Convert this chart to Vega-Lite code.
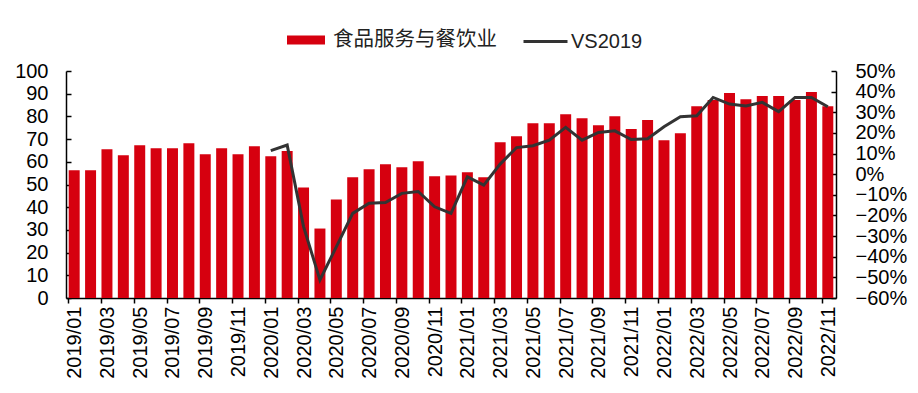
{
  "$schema": "https://vega.github.io/schema/vega-lite/v6.json",
  "width": 770,
  "height": 227,
  "autosize": {"type": "none"},
  "padding": {"left": 66, "top": 71, "right": 82, "bottom": 95},
  "config": {
    "font": "Liberation Sans",
    "view": {"stroke": null},
    "axis": {
      "labelFont": "Liberation Sans",
      "labelFontSize": 20,
      "labelColor": "#000000",
      "domainColor": "#000000",
      "tickColor": "#000000",
      "domainWidth": 1.5,
      "tickWidth": 1.5,
      "grid": false,
      "title": null
    },
    "legend": {
      "labelFont": "Liberation Sans, Noto Sans CJK SC",
      "labelFontSize": 20,
      "labelColor": "#222222",
      "labelLimit": 400
    }
  },
  "data": {
    "values": [
      {"m": "2019/01", "v": 56.3, "vs": null},
      {"m": "2019/02", "v": 56.3, "vs": null},
      {"m": "2019/03", "v": 65.5, "vs": null},
      {"m": "2019/04", "v": 62.9, "vs": null},
      {"m": "2019/05", "v": 67.3, "vs": null},
      {"m": "2019/06", "v": 66.0, "vs": null},
      {"m": "2019/07", "v": 66.0, "vs": null},
      {"m": "2019/08", "v": 68.2, "vs": null},
      {"m": "2019/09", "v": 63.3, "vs": null},
      {"m": "2019/10", "v": 66.0, "vs": null},
      {"m": "2019/11", "v": 63.3, "vs": null},
      {"m": "2019/12", "v": 66.9, "vs": null},
      {"m": "2020/01", "v": 62.4, "vs": 0.114},
      {"m": "2020/02", "v": 64.8, "vs": 0.141},
      {"m": "2020/03", "v": 48.7, "vs": -0.254},
      {"m": "2020/04", "v": 30.6, "vs": -0.512},
      {"m": "2020/05", "v": 43.4, "vs": -0.352},
      {"m": "2020/06", "v": 53.2, "vs": -0.19},
      {"m": "2020/07", "v": 56.7, "vs": -0.141},
      {"m": "2020/08", "v": 58.9, "vs": -0.137},
      {"m": "2020/09", "v": 57.6, "vs": -0.093},
      {"m": "2020/10", "v": 60.2, "vs": -0.084},
      {"m": "2020/11", "v": 53.6, "vs": -0.158},
      {"m": "2020/12", "v": 54.0, "vs": -0.19},
      {"m": "2021/01", "v": 55.4, "vs": -0.013},
      {"m": "2021/02", "v": 53.2, "vs": -0.053},
      {"m": "2021/03", "v": 68.6, "vs": 0.049},
      {"m": "2021/04", "v": 71.3, "vs": 0.129},
      {"m": "2021/05", "v": 77.0, "vs": 0.138},
      {"m": "2021/06", "v": 77.0, "vs": 0.165},
      {"m": "2021/07", "v": 81.0, "vs": 0.227},
      {"m": "2021/08", "v": 79.2, "vs": 0.165},
      {"m": "2021/09", "v": 76.1, "vs": 0.202},
      {"m": "2021/10", "v": 80.1, "vs": 0.21},
      {"m": "2021/11", "v": 74.4, "vs": 0.168},
      {"m": "2021/12", "v": 78.4, "vs": 0.172},
      {"m": "2022/01", "v": 69.5, "vs": 0.23},
      {"m": "2022/02", "v": 72.6, "vs": 0.278},
      {"m": "2022/03", "v": 84.5, "vs": 0.283},
      {"m": "2022/04", "v": 87.2, "vs": 0.372},
      {"m": "2022/05", "v": 90.3, "vs": 0.34},
      {"m": "2022/06", "v": 87.6, "vs": 0.33},
      {"m": "2022/07", "v": 89.0, "vs": 0.348},
      {"m": "2022/08", "v": 89.0, "vs": 0.303},
      {"m": "2022/09", "v": 87.2, "vs": 0.372},
      {"m": "2022/10", "v": 90.7, "vs": 0.372},
      {"m": "2022/11", "v": 84.5, "vs": 0.327}
    ]
  },
  "encoding": {
    "x": {
      "field": "m",
      "type": "ordinal",
      "sort": null,
      "scale": {"paddingInner": 0.33, "paddingOuter": 0.165},
      "axis": {
        "values": ["2019/01", "2019/03", "2019/05", "2019/07", "2019/09", "2019/11", "2020/01", "2020/03", "2020/05", "2020/07", "2020/09", "2020/11", "2021/01", "2021/03", "2021/05", "2021/07", "2021/09", "2021/11", "2022/01", "2022/03", "2022/05", "2022/07", "2022/09", "2022/11"],
        "labelAngle": -90,
        "bandPosition": 0,
        "labelOffset": 1,
        "tickSize": 5,
        "labelPadding": 3
      }
    }
  },
  "layer": [
    {
      "mark": {"type": "bar"},
      "encoding": {
        "y": {
          "field": "v",
          "type": "quantitative",
          "scale": {"domain": [0, 100]},
          "axis": {
            "orient": "left",
            "values": [0, 10, 20, 30, 40, 50, 60, 70, 80, 90, 100],
            "tickSize": -5,
            "labelPadding": 23
          }
        },
        "fill": {
          "datum": "食品服务与餐饮业",
          "type": "nominal",
          "scale": {"range": ["#D6000F"]},
          "legend": {
            "orient": "none",
            "legendX": 221,
            "legendY": -50,
            "title": null,
            "padding": 0,
            "symbolType": "M-1,-0.24H1V0.24H-1Z",
            "symbolSize": 1444,
            "symbolStrokeWidth": 0,
            "labelFontSize": 20.5,
            "labelLimit": 400,
            "labelOffset": 8
          }
        }
      }
    },
    {
      "transform": [{"filter": "datum.vs != null"}],
      "mark": {"type": "line", "strokeWidth": 3},
      "encoding": {
        "y": {
          "field": "vs",
          "type": "quantitative",
          "scale": {"domain": [-0.6, 0.5]},
          "axis": {
            "orient": "right",
            "format": ".0%",
            "values": [-0.6, -0.5, -0.4, -0.3, -0.2, -0.1, 0, 0.1, 0.2, 0.3, 0.4, 0.5],
            "tickSize": -5,
            "labelPadding": 24
          }
        },
        "stroke": {
          "datum": "VS2019",
          "type": "nominal",
          "scale": {"range": ["#333333"]},
          "legend": {
            "orient": "none",
            "legendX": 456,
            "legendY": -53,
            "title": null,
            "padding": 0,
            "symbolType": "stroke",
            "symbolSize": 1936,
            "symbolStrokeWidth": 3,
            "labelOffset": 2
          }
        }
      }
    }
  ],
  "resolve": {"scale": {"y": "independent"}}
}
